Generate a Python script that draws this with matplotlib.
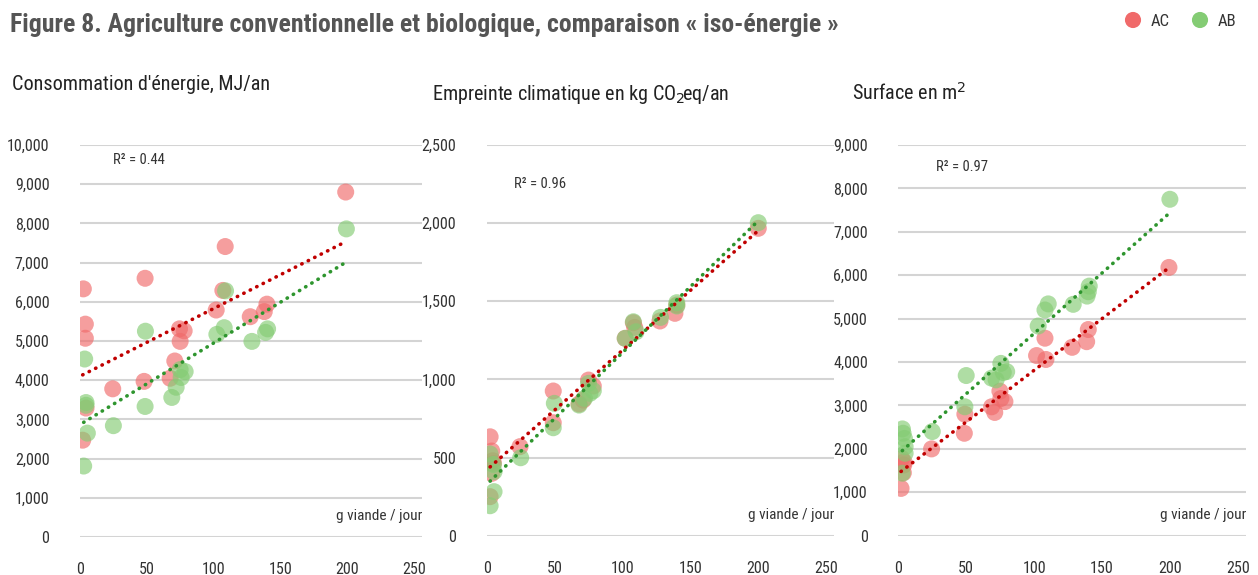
import numpy as np
import matplotlib
matplotlib.use('Agg')
import matplotlib.pyplot as plt
from matplotlib import font_manager

# pick a condensed font if we have one
paths = font_manager.findSystemFonts() + [f.fname for f in font_manager.fontManager.ttflist]
wanted = ['RobotoCondensed-Regular', 'Roboto_Condensed-Regular', 'LiberationSansNarrow-Regular',
          'DejaVuSansCondensed.']
wanted_b = ['RobotoCondensed-Bold.', 'Roboto_Condensed-Bold.', 'LiberationSansNarrow-Bold.',
            'DejaVuSansCondensed-Bold.']


def find(keys):
    for k in keys:
        for p in paths:
            if k in p.split('/')[-1]:
                return p
    return None


reg_path = find(wanted)
bold_path = find(wanted_b)
FP = font_manager.FontProperties(fname=reg_path) if reg_path else font_manager.FontProperties(family='DejaVu Sans')
FPB = font_manager.FontProperties(fname=bold_path) if bold_path else font_manager.FontProperties(family='DejaVu Sans', weight='bold')

# ---- data ----
# energy, MJ/an
energy_ac_x = [2.5, 4, 4, 4.5, 2, 24.5, 48.75, 48, 108.75, 107, 102, 74.5, 78, 75, 71, 67.5, 127.5, 140, 138, 199]
energy_ac_y = [6330, 5430, 5070, 3290, 2470, 3780, 6600, 3970, 7410, 6290, 5790, 5310, 5260, 4990, 4490, 4050, 5620, 5940, 5750, 8800]
energy_ab_x = [3.5, 4.5, 4.5, 5.5, 2.75, 25, 49, 48.75, 68.75, 72, 75.75, 78.75, 75, 102.5, 108, 109, 128.75, 139, 140.5, 199.5]
energy_ab_y = [4540, 3430, 3360, 2650, 1810, 2840, 5250, 3330, 3560, 3820, 4070, 4220, 4270, 5170, 5340, 6280, 4990, 5220, 5310, 7860]

# climate, kg CO2eq/an
climate_ac_x = [2.5, 3.7, 4.9, 3.7, 2.5, 4.5, 24.5, 49, 49, 75, 78.5, 71, 68, 108, 109, 102, 127.6, 138.6, 140, 200]
climate_ac_y = [633, 542, 463, 399, 250, 480, 570, 926, 723, 996, 958, 868, 843, 1363, 1333, 1263, 1374, 1423, 1476, 1967]
climate_ab_x = [2.5, 4.9, 5.4, 5.4, 2.5, 25, 49.8, 49, 68, 72, 76, 78.5, 75, 108, 110, 102, 128, 140, 140, 200]
climate_ab_y = [523, 456, 410, 282, 192, 499, 847, 691, 836, 879, 911, 928, 975, 1369, 1305, 1263, 1397, 1491, 1470, 2003]

# surface, m2
surface_ac_x = [2, 2.5, 4.2, 3.7, 4, 24.5, 48.6, 49, 68.7, 71, 74.8, 75.5, 78.5, 101.8, 108, 108.7, 128, 138.7, 139.9, 199.3]
surface_ac_y = [1090, 1780, 1700, 1450, 1630, 2000, 2360, 2800, 2970, 2840, 3330, 3160, 3090, 4150, 4550, 4060, 4340, 4470, 4750, 6180]
surface_ab_x = [3, 3.5, 4.5, 5, 5, 2.9, 25, 50, 49, 68.7, 72, 75.5, 77.3, 79.8, 103, 108, 110.4, 128.8, 139, 139.9, 140.6, 200]
surface_ab_y = [2460, 2360, 2240, 2050, 1900, 1440, 2400, 3690, 2970, 3630, 3590, 3970, 3760, 3780, 4830, 5200, 5340, 5330, 5520, 5620, 5750, 7750]

titles = ["Consommation d'énergie, MJ/an",
          "Empreinte climatique en kg CO$_2\\!$eq/an",
          "Surface en m$^2$"]
r2_labels = ['R² = 0.44', 'R² = 0.96', 'R² = 0.97']
y_max = [10000, 2500, 9000]
y_step = [1000, 500, 1000]

RED = '#F06A6A'
GREEN = '#84CC74'
RED_LINE = '#C00000'
GREEN_LINE = '#2E952E'
GREY = '#333333'

plt.rcParams['mathtext.fontset'] = 'custom'
if reg_path:
    font_manager.fontManager.addfont(reg_path)
    fname = FP.get_name()
    plt.rcParams['mathtext.rm'] = fname
    plt.rcParams['mathtext.it'] = fname

panels = [
    (energy_ac_x, energy_ac_y, energy_ab_x, energy_ab_y),
    (climate_ac_x, climate_ac_y, climate_ab_x, climate_ab_y),
    (surface_ac_x, surface_ac_y, surface_ab_x, surface_ab_y),
]
# axes boxes in figure fraction
boxes = [(0.0636, 0.0661, 0.2717, 0.6817),
         (0.3869, 0.0683, 0.2763, 0.6795),
         (0.7141, 0.0683, 0.2763, 0.6795)]
r2_pos = [(0.096, 0.962), (0.079, 0.90), (0.108, 0.944)]
title_pos = [(12, 85), (432, 95), (852, 93)]

fig = plt.figure(figsize=(12.58, 5.75), dpi=100)
W, H = 1258, 575


def fp(size, bold=False):
    p = (FPB if bold else FP).copy()
    p.set_size(size)
    return p


def trend(ax, x, y, color):
    x = np.asarray(x, float)
    y = np.asarray(y, float)
    a, b = np.polyfit(x, y, 1)
    xs = np.array([x.min(), x.max()])
    ax.plot(xs, a * xs + b, color=color, lw=2.6, linestyle=(0, (0.1, 1.9)),
            dash_capstyle='round', zorder=3)


for i, (acx, acy, abx, aby) in enumerate(panels):
    ax = fig.add_axes(boxes[i])
    ax.scatter(acx, acy, s=150, color=RED, alpha=0.65, edgecolors='none', zorder=2)
    ax.scatter(abx, aby, s=150, color=GREEN, alpha=0.65, edgecolors='none', zorder=2)
    trend(ax, acx, acy, RED_LINE)
    trend(ax, abx, aby, GREEN_LINE)

    ax.set_xlim(0, 256)
    ax.set_ylim(0, y_max[i])
    ax.set_xticks([0, 50, 100, 150, 200, 250])
    ax.set_yticks(np.arange(0, y_max[i] + 1, y_step[i]))
    ax.yaxis.set_major_formatter(matplotlib.ticker.StrMethodFormatter('{x:,.0f}'))
    ax.grid(axis='y', color='#d4d4d4', lw=1.5)
    ax.set_axisbelow(True)
    for s in ax.spines.values():
        s.set_visible(False)
    ax.tick_params(length=0, colors=GREY)
    ax.tick_params(axis='y', pad=22)
    ax.tick_params(axis='x', pad=18)
    for lab in ax.get_xticklabels() + ax.get_yticklabels():
        lab.set_fontproperties(fp(11.5))
    for lab in ax.get_xticklabels():
        lab.set_clip_on(False)

    ax.text(r2_pos[i][0], r2_pos[i][1], r2_labels[i], transform=ax.transAxes,
            fontproperties=fp(10.5), color=GREY, va='center', ha='left')
    ax.text(1.0, 0.054, 'g viande / jour', transform=ax.transAxes,
            fontproperties=fp(11), color=GREY, va='center', ha='right')

    tx, ty = title_pos[i]
    fig.text(tx / W, 1 - ty / H, titles[i], fontproperties=fp(14.5), color='#222222',
             va='center', ha='left')

fig.text(10 / W, 1 - 25 / H,
         'Figure 8. Agriculture conventionnelle et biologique, comparaison « iso-énergie »',
         fontproperties=fp(18.5, bold=True), color='#555555', va='center', ha='left')

# legend on top right
lax = fig.add_axes([0, 0, 1, 1], facecolor='none')
lax.set_xlim(0, W)
lax.set_ylim(H, 0)
lax.axis('off')
leg_labels = ['AC', 'AB']
leg_colors = [RED, GREEN]
leg_x = [1133, 1200]
lax.scatter(leg_x, [20, 20], s=135, c=leg_colors, edgecolors='none')
for lx, lab in zip(leg_x, leg_labels):
    lax.text(lx + 18, 21, lab, fontproperties=fp(12), color=GREY, va='center', ha='left')

fig.savefig('out.png', dpi=100)
